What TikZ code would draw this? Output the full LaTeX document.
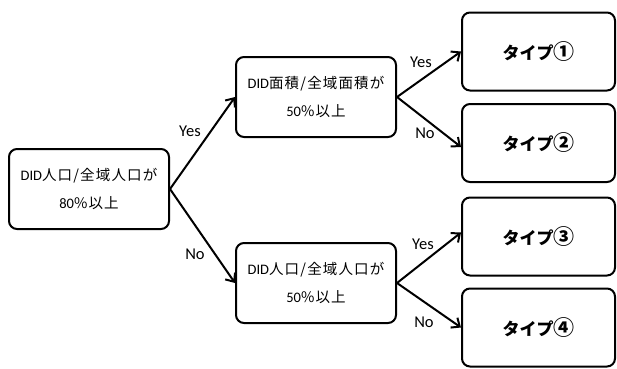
\documentclass[tikz,border=0pt]{standalone}
\usepackage{fontspec}
\setmainfont{Carlito}
\newfontfamily\jp[LetterSpace=8]{Noto Sans CJK JP}
\newfontfamily\jpb{Noto Sans CJK JP}
\newcommand{\circnum}[1]{{\fontsize{21}{18}\selectfont #1}}
\usetikzlibrary{arrows.meta}
\tikzset{
  box/.style={draw=black, line width=2pt, rounded corners=8pt, fill=white, align=center, inner sep=0pt},
  cond/.style={box, minimum width=160pt, minimum height=80pt, font=\fontsize{14.5}{28}\selectfont},
  typebox/.style={box, minimum width=153pt, minimum height=78pt, font=\jpb\bfseries\fontsize{17}{18}\selectfont},
  arr/.style={line width=2pt, -{Straight Barb[length=7pt,width=12pt,line width=2pt]}},
  lab/.style={font=\fontsize{16.5}{18}\selectfont, inner sep=0pt}
}
\begin{document}
\begin{tikzpicture}[x=1pt,y=-1pt]
\useasboundingbox (0,0) rectangle (617,368);
\node[cond] (a) at (89,189) {DID{\jp 人口/全域人口が}\\80{\jp \%以上}};
\node[cond] (b) at (316,97) {DID{\jp 面積/全域面積が}\\50{\jp \%以上}};
\node[cond] (c) at (316,283) {DID{\jp 人口/全域人口が}\\50{\jp \%以上}};
\node[typebox] (t1) at (538.5,51.5) {タイプ\circnum{①}};
\node[typebox] (t2) at (538.5,143) {タイプ\circnum{②}};
\node[typebox] (t3) at (538.5,236.5) {タイプ\circnum{③}};
\node[typebox] (t4) at (538.5,327.5) {タイプ\circnum{④}};
\draw[arr] (a.east) -- (b.west);
\draw[arr] (a.east) -- (c.west);
\draw[arr] (b.east) -- (t1.west);
\draw[arr] (b.east) -- ([yshift=-4pt]t2.west);
\draw[arr] (c.east) -- ([yshift=4pt]t3.west);
\draw[arr] (c.east) -- (t4.west);
\node[lab] (y1) at (190,131) {Yes};
\node[lab] (n1) at (195,254) {No};
\node[lab] (y2) at (421,62) {Yes};
\node[lab] (n2) at (425,133) {No};
\node[lab] (y3) at (423,244) {Yes};
\node[lab] (n3) at (424,322) {No};
\end{tikzpicture}
\end{document}
